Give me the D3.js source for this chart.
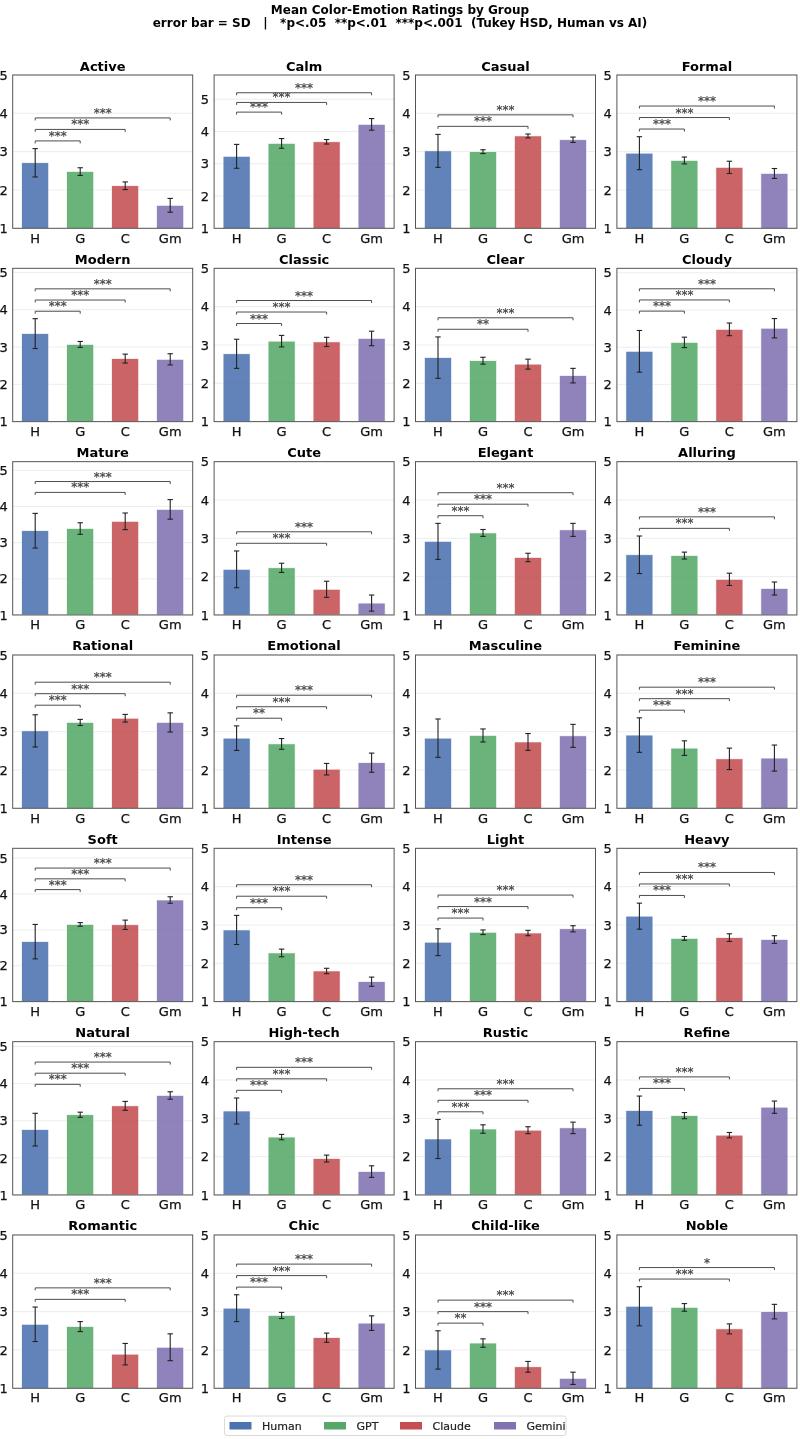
<!DOCTYPE html>
<html>
<head>
<meta charset="utf-8">
<script src="https://cdn.jsdelivr.net/npm/d3@7"></script>
<style>
    body { margin: 0; background: #fff; }
    svg { display: block; font-family: "DejaVu Sans", sans-serif; will-change: transform; }
</style>
</head>
<body>
<div id="chart"></div>
<script>
var attributes = ["Active", "Calm", "Casual", "Formal", "Modern", "Classic", "Clear", "Cloudy",
    "Mature", "Cute", "Elegant", "Alluring", "Rational", "Emotional", "Masculine", "Feminine",
    "Soft", "Intense", "Light", "Heavy", "Natural", "High-tech", "Rustic", "Refine",
    "Romantic", "Chic", "Child-like", "Noble"];

var groupCodes = ["H", "G", "C", "Gm"];
var groupNames = ["Human", "GPT", "Claude", "Gemini"];
var yTicks = [1, 2, 3, 4, 5];

var humanMean = [2.71, 3.23, 3.02, 2.96, 3.36, 2.77, 2.67, 2.89, 3.33, 2.19, 2.92, 2.57, 3.02, 2.83,
    2.83, 2.91, 2.67, 2.87, 2.55, 3.23, 2.76, 3.19, 2.46, 3.20, 2.67, 3.09, 2.00, 3.14];
var humanSD = [0.37, 0.37, 0.43, 0.43, 0.40, 0.38, 0.54, 0.56, 0.48, 0.48, 0.47, 0.49, 0.42, 0.32,
    0.50, 0.45, 0.48, 0.38, 0.35, 0.34, 0.44, 0.34, 0.51, 0.38, 0.45, 0.35, 0.50, 0.51];
var gptMean = [2.48, 3.63, 3.00, 2.77, 3.07, 3.10, 2.59, 3.13, 3.39, 2.23, 3.14, 2.55, 3.24, 2.68,
    2.90, 2.57, 3.15, 2.27, 2.81, 2.65, 3.16, 2.51, 2.72, 3.07, 2.61, 2.90, 2.18, 3.11];
var gptSD = [0.10, 0.15, 0.05, 0.09, 0.08, 0.15, 0.09, 0.14, 0.16, 0.12, 0.09, 0.09, 0.08, 0.14,
    0.17, 0.19, 0.05, 0.10, 0.06, 0.05, 0.07, 0.07, 0.11, 0.08, 0.13, 0.08, 0.11, 0.10];
var claudeMean = [2.11, 3.68, 3.41, 2.59, 2.69, 3.08, 2.50, 3.48, 3.59, 1.67, 2.50, 1.93, 3.35, 2.02,
    2.73, 2.29, 3.14, 1.80, 2.79, 2.67, 3.40, 1.95, 2.69, 2.56, 1.89, 2.32, 1.56, 2.55];
var claudeSD = [0.10, 0.07, 0.05, 0.16, 0.12, 0.12, 0.13, 0.17, 0.23, 0.21, 0.11, 0.16, 0.10, 0.15,
    0.22, 0.28, 0.13, 0.07, 0.07, 0.10, 0.12, 0.09, 0.09, 0.07, 0.28, 0.12, 0.14, 0.13];
var geminiMean = [1.60, 4.22, 3.31, 2.43, 2.67, 3.17, 2.20, 3.51, 3.92, 1.31, 3.22, 1.69, 3.24, 2.19,
    2.89, 2.31, 3.83, 1.52, 2.90, 2.62, 3.68, 1.61, 2.75, 3.29, 2.07, 2.70, 1.26, 3.00];
var geminiSD = [0.18, 0.18, 0.07, 0.13, 0.15, 0.19, 0.19, 0.26, 0.27, 0.21, 0.17, 0.17, 0.25, 0.25,
    0.30, 0.34, 0.09, 0.12, 0.08, 0.10, 0.10, 0.15, 0.15, 0.16, 0.35, 0.19, 0.16, 0.19];

// Tukey HSD stars, Human vs each AI ("" = n.s.)
var sigGPT = ["***", "***", "", "***", "***", "***", "", "***", "", "", "***", "", "***", "**",
    "", "***", "***", "***", "***", "***", "***", "***", "***", "***", "", "***", "**", ""];
var sigClaude = ["***", "***", "***", "***", "***", "***", "**", "***", "***", "***", "***", "***", "***", "***",
    "", "***", "***", "***", "***", "***", "***", "***", "***", "***", "***", "***", "***", "***"];
var sigGemini = ["***", "***", "***", "***", "***", "***", "***", "***", "***", "***", "***", "***", "***", "***",
    "", "***", "***", "***", "***", "***", "***", "***", "***", "", "***", "***", "***", "*"];

var colors = ["#4c72b0", "#55a868", "#c44e52", "#8172b2"];

var totalWidth = 800,
    totalHeight = 1439,
    nCols = 4,
    panelLeft = 12.7,
    panelTop = 75,
    colStep = 201.4,
    rowStep = 193.33,
    pWidth = 180,
    pHeight = 153.3;

var svg = d3.select("#chart").append("svg")
    .attr("width", totalWidth)
    .attr("height", totalHeight);

svg.append("text")
    .attr("x", 400).attr("y", 13.5)
    .attr("text-anchor", "middle")
    .attr("font-size", 12).attr("font-weight", "bold")
    .text("Mean Color-Emotion Ratings by Group");
svg.append("text")
    .attr("x", 400).attr("y", 27)
    .attr("text-anchor", "middle")
    .attr("font-size", 12).attr("font-weight", "bold")
    .attr("xml:space", "preserve")
    .text("error bar = SD   |   *p<.05  **p<.01  ***p<.001  (Tukey HSD, Human vs AI)");

var means = [humanMean, gptMean, claudeMean, geminiMean];
var sds = [humanSD, gptSD, claudeSD, geminiSD];
var sigs = [null, sigGPT, sigClaude, sigGemini];

var xScale = d3.scaleBand()
    .domain(groupCodes)
    .range([0, pWidth])
    .paddingInner(0.4)
    .paddingOuter(0.2);

attributes.forEach(function(attr, i) {
    var col = i % nCols,
        row = Math.floor(i / nCols);

    var data = groupCodes.map(function(code, g) {
        return { code: code, mean: means[g][i], sd: sds[g][i], color: colors[g] };
    });

    // significant comparisons, stacked from the bars up
    var brackets = [];
    for (var g = 1; g < 4; g++) {
        if (sigs[g][i]) brackets.push({ to: groupCodes[g], label: sigs[g][i] });
    }
    var maxTop = d3.max(data, function(d) { return d.mean + d.sd; });
    var base = maxTop + 0.2;
    var yMax = 5;
    if (brackets.length) {
        yMax = Math.max(5, base + 0.3 * (brackets.length - 1) + 0.55);
    }

    var yScale = d3.scaleLinear().domain([1, yMax]).range([pHeight, 0]);

    var g0 = svg.append("g")
        .attr("transform", "translate(" + (panelLeft + col * colStep) + "," + (panelTop + row * rowStep) + ")");

    g0.selectAll(".grid").data(yTicks).enter().append("line")
        .attr("x1", 0).attr("x2", pWidth)
        .attr("y1", function(d) { return yScale(d); })
        .attr("y2", function(d) { return yScale(d); })
        .attr("stroke", "#e8e8e8")
        .attr("stroke-width", 0.8);

    g0.selectAll(".bar").data(data).enter().append("rect")
        .attr("x", function(d) { return xScale(d.code); })
        .attr("width", xScale.bandwidth())
        .attr("y", function(d) { return yScale(d.mean); })
        .attr("height", function(d) { return yScale(1) - yScale(d.mean); })
        .attr("fill", function(d) { return d.color; })
        .attr("fill-opacity", 0.88)
        .attr("stroke", "#fff")
        .attr("stroke-width", 0.6);

    var err = g0.selectAll(".err").data(data).enter().append("g")
        .attr("stroke", "#222")
        .attr("stroke-width", 1.1);
    err.append("line")
        .attr("x1", function(d) { return xScale(d.code) + xScale.bandwidth() / 2; })
        .attr("x2", function(d) { return xScale(d.code) + xScale.bandwidth() / 2; })
        .attr("y1", function(d) { return yScale(d.mean - d.sd); })
        .attr("y2", function(d) { return yScale(d.mean + d.sd); });
    [-1, 1].forEach(function(s) {
        err.append("line")
            .attr("x1", function(d) { return xScale(d.code) + xScale.bandwidth() / 2 - 2.7; })
            .attr("x2", function(d) { return xScale(d.code) + xScale.bandwidth() / 2 + 2.7; })
            .attr("y1", function(d) { return yScale(d.mean + s * d.sd); })
            .attr("y2", function(d) { return yScale(d.mean + s * d.sd); });
    });

    var x0 = xScale("H") + xScale.bandwidth() / 2;
    brackets.forEach(function(b, k) {
        var yb = yScale(base + 0.3 * k),
            x1 = xScale(b.to) + xScale.bandwidth() / 2;
        g0.append("path")
            .attr("d", "M" + x0 + "," + (yb + 2.5) + "V" + yb + "H" + x1 + "V" + (yb + 2.5))
            .attr("fill", "none")
            .attr("stroke", "#4d4d4d")
            .attr("stroke-width", 1);
        g0.append("text")
            .attr("x", (x0 + x1) / 2)
            .attr("y", yb - 1)
            .attr("text-anchor", "middle")
            .attr("font-size", 12)
            .attr("fill", "#222")
            .attr("stroke", "#222")
            .attr("stroke-width", 0.2)
            .attr("opacity", 0.85)
            .text(b.label);
    });

    var yAxis = d3.axisLeft(yScale).tickValues(yTicks).tickSize(0).tickPadding(5).tickFormat(d3.format("d"));
    var xAxis = d3.axisBottom(xScale).tickSize(0).tickPadding(5);

    var ya = g0.append("g").call(yAxis);
    ya.select(".domain").remove();
    ya.selectAll("text").attr("font-size", 13).attr("fill", "#111")
        .attr("stroke", "#111").attr("stroke-width", 0.25).attr("font-family", "DejaVu Sans");

    var xa = g0.append("g").attr("transform", "translate(0," + pHeight + ")").call(xAxis);
    xa.select(".domain").remove();
    xa.selectAll("text").attr("font-size", 13).attr("fill", "#111")
        .attr("stroke", "#111").attr("stroke-width", 0.25).attr("font-family", "DejaVu Sans");

    g0.append("rect")
        .attr("width", pWidth).attr("height", pHeight)
        .attr("fill", "none")
        .attr("stroke", "#555")
        .attr("stroke-width", 1);

    g0.append("text")
        .attr("x", pWidth / 2).attr("y", -4.5)
        .attr("text-anchor", "middle")
        .attr("font-size", 13).attr("font-weight", "bold")
        .text(attr);
});

// legend
var legend = svg.append("g").attr("transform", "translate(224.5,1416)");
legend.append("rect")
    .attr("width", 341.5).attr("height", 19.5).attr("rx", 2.5)
    .attr("fill", "#fff").attr("stroke", "#d0d0d0").attr("stroke-width", 0.8);
var legX = [5, 99.5, 175.5, 269.5];
groupNames.forEach(function(name, g) {
    legend.append("rect")
        .attr("x", legX[g]).attr("y", 6).attr("width", 22).attr("height", 7.5)
        .attr("fill", colors[g]);
    legend.append("text")
        .attr("x", legX[g] + 32.5).attr("y", 13.8)
        .attr("font-size", 11).attr("fill", "#222")
        .attr("stroke", "#222").attr("stroke-width", 0.2)
        .text(name);
});
</script>
</body>
</html>
